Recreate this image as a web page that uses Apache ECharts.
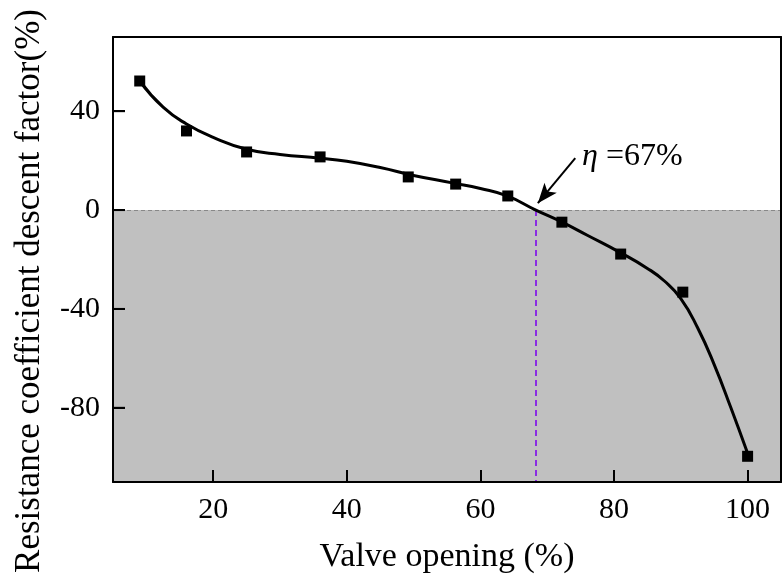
<!DOCTYPE html>
<html>
<head>
<meta charset="utf-8">
<script src="https://cdn.jsdelivr.net/npm/echarts@6/dist/echarts.min.js"></script>
<style>html,body{margin:0;padding:0;background:#fff}#c{width:783px;height:579px}</style>
</head>
<body>
<div id="c"></div>
<script>
// measured points
var pointX = [9, 16, 25, 36, 49.2, 56.3, 64.1, 72.2, 81, 90.3, 100];
var pointY = [52.2, 32, 23.5, 21.5, 13.4, 10.5, 5.7, -4.9, -17.8, -33.2, -99.6];
// fitted curve
var curveX = [9, 12.5, 16, 20, 25, 30, 36, 40, 45, 50, 56, 60, 64, 68.3, 72, 76, 81, 85, 87.5, 90, 92.5, 95, 97.5, 100];
var curveY = [52.2, 41.6, 34.8, 29.4, 24.6, 22.5, 21, 19.7, 17.2, 14, 10.9, 8.7, 5.7, 0, -4.6, -10.2, -17.3, -23.6, -28.6, -35.8, -47.5, -62.5, -80, -98.4];
var xTicks = [20, 40, 60, 80, 100];
var yTicks = [-80, -40, 0, 40];
var xMin = 5, xMax = 105, yMin = -110, yMax = 70;
var etaX = 68.3;
var arrowFrom = [74.2, 21];
var arrowTo = [68.6, 2.8];

var FONT = '"Times New Roman", "Liberation Serif", serif';
var chart = echarts.init(document.getElementById('c'));
function zip(a, b) { return a.map(function (v, i) { return [v, b[i]]; }); }
var hiddenAxis = { axisTick: { show: false }, axisLabel: { show: false }, splitLine: { show: false } };

chart.setOption({
  animation: false,
  backgroundColor: '#fff',
  grid: { left: 113, right: 2, top: 37, bottom: 97, show: false },
  xAxis: [{
    type: 'value', min: xMin, max: xMax, position: 'bottom',
    name: 'Valve opening (%)', nameLocation: 'middle', nameGap: 58,
    nameTextStyle: { fontFamily: FONT, fontSize: 34, color: '#000' },
    axisLine: { show: true, onZero: false, lineStyle: { color: '#000', width: 2 } },
    axisTick: { show: true, inside: true, length: 12, lineStyle: { color: '#000', width: 2 }, customValues: xTicks },
    axisLabel: { fontFamily: FONT, fontSize: 30, color: '#000', margin: 13, customValues: xTicks },
    splitLine: { show: false }, z: 10
  }, Object.assign({
    type: 'value', min: xMin, max: xMax, position: 'top',
    axisLine: { show: true, onZero: false, lineStyle: { color: '#000', width: 2 } }, z: 10
  }, hiddenAxis)],
  yAxis: [{
    type: 'value', min: yMin, max: yMax, position: 'left',
    axisLine: { show: true, onZero: false, lineStyle: { color: '#000', width: 2 } },
    axisTick: { show: true, inside: true, length: 12, lineStyle: { color: '#000', width: 2 }, customValues: yTicks },
    axisLabel: { fontFamily: FONT, fontSize: 30, color: '#000', margin: 13, customValues: yTicks },
    splitLine: { show: false }, z: 10
  }, Object.assign({
    type: 'value', min: yMin, max: yMax, position: 'right',
    axisLine: { show: true, onZero: false, lineStyle: { color: '#000', width: 2 } }, z: 10
  }, hiddenAxis)],
  graphic: [
    { type: 'text', rotation: Math.PI / 2, x: 30, y: 291, silent: true, style: { text: 'Resistance coefficient descent factor(%)', font: '35px ' + FONT, fill: '#000', align: 'center', verticalAlign: 'middle' } },
    { type: 'text', x: 582, y: 141, silent: true, style: { text: '{i|η} =67%', rich: { i: { font: 'italic 32px ' + FONT, fill: '#000' } }, font: '32px ' + FONT, fill: '#000' } }
  ],
  series: [
    {
      type: 'line', data: zip(curveX, curveY), smooth: 0.5, showSymbol: false,
      lineStyle: { color: '#000', width: 3 }, z: 5,
      markArea: { silent: true, itemStyle: { color: '#c0c0c0' }, data: [[{ yAxis: yMin }, { yAxis: 0 }]] },
      markLine: {
        silent: true, symbol: 'none', label: { show: false }, animation: false,
        data: [
          [{ coord: [xMin, 0], lineStyle: { color: '#888', width: 1, type: [4, 3] } }, { coord: [xMax, 0] }],
          [{ coord: [etaX, 0], lineStyle: { color: '#8a2be2', width: 2, type: [6, 4] } }, { coord: [etaX, yMin] }],
          [{ coord: arrowFrom, symbol: 'none', lineStyle: { color: '#000', width: 2, type: 'solid' } }, { coord: arrowTo, symbol: 'arrow', symbolSize: [12, 20] }]
        ]
      }
    },
    {
      type: 'scatter', data: zip(pointX, pointY), symbol: 'rect', symbolSize: 11,
      itemStyle: { color: '#000', opacity: 1 }, z: 6
    }
  ]
});

// y-axis inside ticks drawn on top, positioned through the axis scale
var tickGraphics = yTicks.map(function (v) {
  var p = chart.convertToPixel({ xAxisIndex: 0, yAxisIndex: 0 }, [xMin, v]);
  return { type: 'rect', z: 100, silent: true, shape: { x: p[0], y: p[1] - 1, width: 12, height: 2 }, style: { fill: '#000' } };
});
chart.setOption({ graphic: [
  { type: 'text', rotation: Math.PI / 2, x: 30, y: 291, silent: true, style: { text: 'Resistance coefficient descent factor(%)', font: '35px ' + FONT, fill: '#000', align: 'center', verticalAlign: 'middle' } },
  { type: 'text', x: 582, y: 141, silent: true, style: { text: '{i|η} =67%', rich: { i: { font: 'italic 32px ' + FONT, fill: '#000' } }, font: '32px ' + FONT, fill: '#000' } }
].concat(tickGraphics) }, { replaceMerge: ['graphic'] });
</script>
</body>
</html>
